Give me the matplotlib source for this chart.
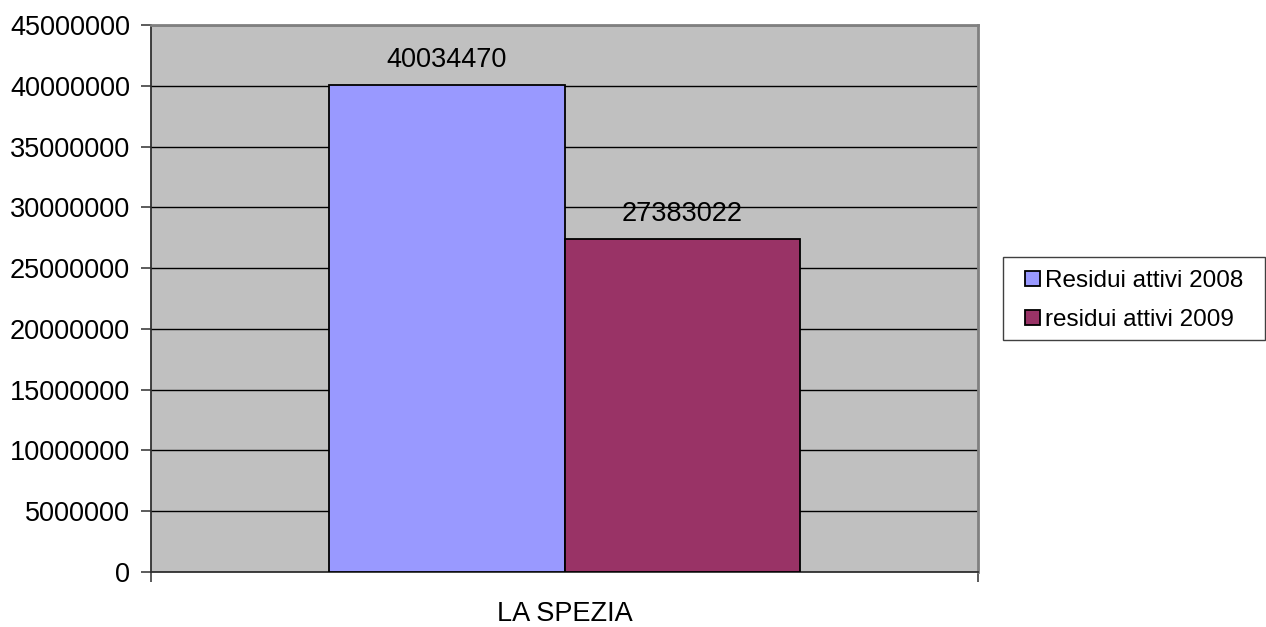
import numpy as np
import matplotlib.pyplot as plt
from matplotlib.patches import Rectangle

categorie = ['LA SPEZIA']
serie = ['Residui attivi 2008', 'residui attivi 2009']
valori = [40034470, 27383022]
colori = ['#9999FF', '#993366']

plt.rcParams['font.family'] = ['Liberation Sans', 'DejaVu Sans']

W, H = 1266, 627
fig = plt.figure(figsize=(W/100, H/100), dpi=100)
ax = fig.add_axes([151/W, 55/H, 827/W, 547/H])
ax.set_facecolor('#C0C0C0')

larg = 0.285
x = np.arange(len(categorie))
for i in range(len(serie)):
    pos = x + (i - 0.5) * larg
    ax.bar(pos, [valori[i]], width=larg, color=colori[i], edgecolor='black',
           linewidth=1.3, label=serie[i], zorder=3)
    ax.annotate(str(valori[i]), (pos[0], valori[i]), xytext=(0, 9),
                textcoords='offset points', ha='center', va='bottom', fontsize=19.5)

ax.set_xlim(-0.5, 0.5)
ax.set_ylim(0, 45000000)
ax.set_yticks(np.arange(0, 45000001, 5000000))
ax.set_yticklabels([str(v) for v in range(0, 45000001, 5000000)], fontsize=19.5)
ax.yaxis.grid(True, color='black', linewidth=1, zorder=1)
ax.set_axisbelow(True)

ax.set_xticks(x)
ax.set_xticklabels(categorie, fontsize=19.5)
ax.tick_params(axis='x', which='major', length=0, pad=21)
ax.set_xticks([-0.5, 0.5], minor=True)
ax.tick_params(axis='x', which='minor', length=7, width=1.2, color='#404040')
ax.tick_params(axis='y', length=7, width=1.2, color='#404040', pad=8)

for s in ['top', 'right']:
    ax.spines[s].set_color('#808080')
    ax.spines[s].set_linewidth(2)
for s in ['left', 'bottom']:
    ax.spines[s].set_color('#303030')
    ax.spines[s].set_linewidth(1.3)

# riquadro legenda
fig.patches.append(Rectangle((1003/W, 287/H), 262/W, 83/H, transform=fig.transFigure,
                             facecolor='white', edgecolor='#404040', linewidth=1,
                             zorder=-1))
leg = ax.legend(loc='center left', bbox_to_anchor=(1025/W, 326.5/H),
                bbox_transform=fig.transFigure, fontsize=17.5, frameon=False,
                handlelength=0.62, handleheight=0.62, handletextpad=0.2,
                borderpad=0, labelspacing=0.7, borderaxespad=0)

fig.savefig('out.png', dpi=100)
